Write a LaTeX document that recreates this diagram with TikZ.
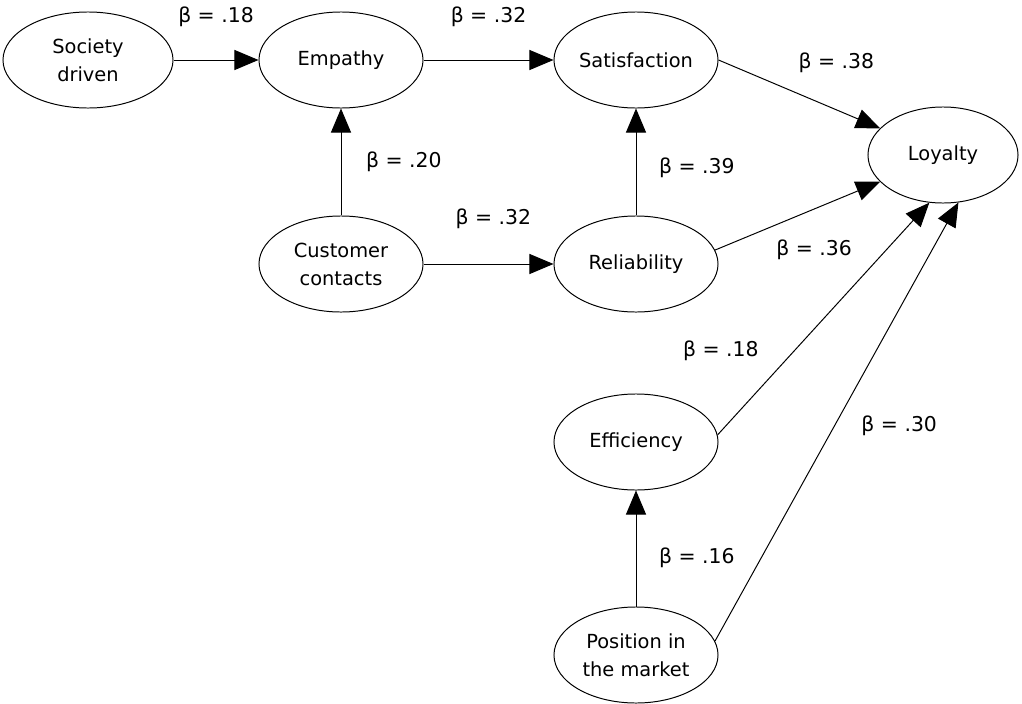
\documentclass[tikz,border=0pt]{standalone}
\usepackage{fontspec}
\setmainfont{DejaVu Sans}
\usetikzlibrary{shapes.geometric}
\usetikzlibrary{arrows.meta}
\newcommand{\coef}[1]{β = .#1}
\newcommand{\widthfactor}{4.1cm}
\newcommand{\heightfactor}{2.4cm}
\tikzset{
    factor/.style={draw, ellipse, line width=0.7pt, minimum width=\widthfactor, minimum height=\heightfactor, align=center, inner sep=0pt},
    link/.style={->, line width=0.7pt},
    weight/.style={font=\fontsize{14.5pt}{18pt}\selectfont}
}
\begin{document}
\begin{tikzpicture}[x=0.025cm, y=0.025cm, >={Triangle[length=0.6cm, width=0.5cm]}, font=\fontsize{13.8pt}{20pt}\selectfont]
                \useasboundingbox (0,0) rectangle (1022,-704);

                \path
                    (88,-60) node[factor, minimum width=4.25cm] (society) {Society\\driven}
                    ++(0:253) node[factor] (empathy) {Empathy}
                    ++(0:295) node[factor] (satisfaction) {Satisfaction}
                    ++(307,-95) node[factor, minimum width=3.75cm] (loyalty) {Loyalty};

                \path
                    (empathy) ++(270:204) node[factor] (contacts) {Customer\\contacts}
                    ++(0:295) node[factor] (reliability) {Reliability}
                    ++(270:178) node[factor] (efficiency) {Efficiency}
                    ++(270:213) node[factor] (position) {Position in\\the market};

                \draw
                  (society) edge[link] node[weight, above=0.7cm] (b-society) {\coef{18}} (empathy)
                  (empathy) edge[link] node[weight, above=0.7cm] (b-empathy) {\coef{32}} (satisfaction)
                  (contacts) edge[link] node[weight, right=0.5cm] (b-contacts-up) {\coef{20}} (empathy)
                  (contacts) edge[link] node[weight, above=0.75cm, xshift=0.12cm] (b-contacts) {\coef{32}} (reliability)
                  (reliability) edge[link] node[weight, right=0.45cm, pos=0.45] (b-reliability-up) {\coef{39}} (satisfaction)
                  (position) edge[link] node[weight, pos=0.42, right=0.45cm] (b-position-up) {\coef{16}} (efficiency);

                \draw
                  (satisfaction.east) edge[link] node[weight, pos=0.73, above=0.8cm] (b-satisfaction) {\coef{38}} (loyalty.157)
                  (reliability.10) edge[link] node[weight, pos=0.6, below=0.65cm] (b-reliability) {\coef{36}} (loyalty.203)
                  (efficiency.5) edge[link] node[weight, pos=0.36, left=0.75cm] (b-efficiency) {\coef{18}} (loyalty.254)
                  (position.10) edge[link] node[weight, pos=0.49, right=0.55cm] (b-position) {\coef{30}} (loyalty.288);
            \end{tikzpicture}
\end{document}
